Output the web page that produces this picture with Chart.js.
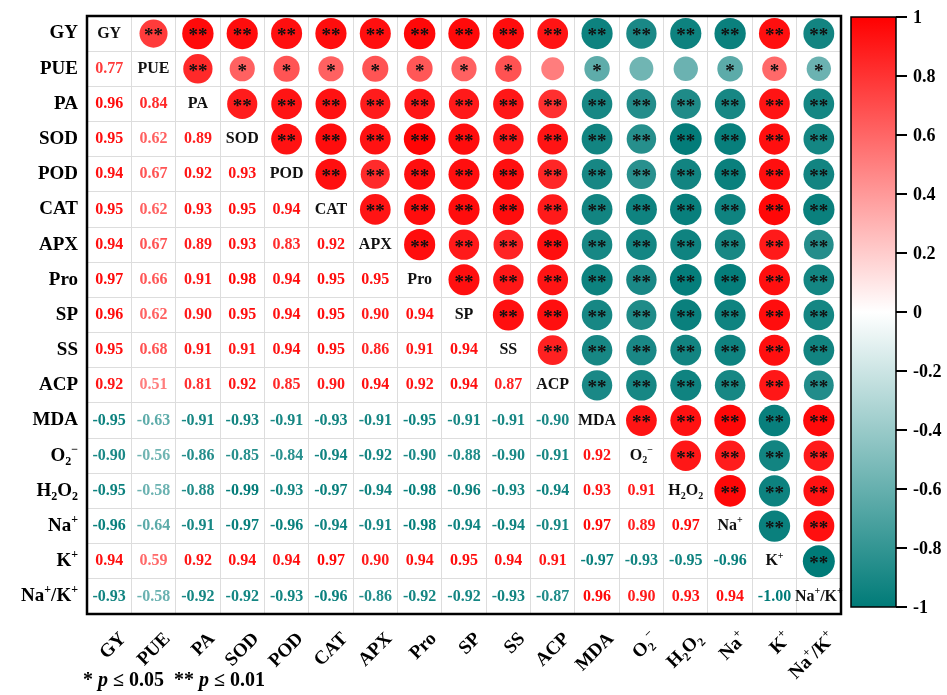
<!DOCTYPE html>
<html>
<head>
<meta charset="utf-8">
<script src="https://cdn.jsdelivr.net/npm/chart.js@4"></script>
<style>
  html, body { margin: 0; padding: 0; background: #fff; }
  #wrap { width: 947px; height: 695px; }
</style>
</head>
<body>
<div id="wrap"><canvas id="corrChart" width="947" height="695"></canvas></div>
<script>
// variable names ('_x' = subscript, '^x' = superscript)
const vars = ['GY', 'PUE', 'PA', 'SOD', 'POD', 'CAT', 'APX', 'Pro', 'SP', 'SS', 'ACP',
  'MDA', 'O_2^−', 'H_2O_2', 'Na^+', 'K^+', 'Na^+/K^+'];

// lower triangle of the correlation matrix, row i holds columns 0..i-1
const corrRows = [
  [],
  [0.77],
  [0.96, 0.84],
  [0.95, 0.62, 0.89],
  [0.94, 0.67, 0.92, 0.93],
  [0.95, 0.62, 0.93, 0.95, 0.94],
  [0.94, 0.67, 0.89, 0.93, 0.83, 0.92],
  [0.97, 0.66, 0.91, 0.98, 0.94, 0.95, 0.95],
  [0.96, 0.62, 0.90, 0.95, 0.94, 0.95, 0.90, 0.94],
  [0.95, 0.68, 0.91, 0.91, 0.94, 0.95, 0.86, 0.91, 0.94],
  [0.92, 0.51, 0.81, 0.92, 0.85, 0.90, 0.94, 0.92, 0.94, 0.87],
  [-0.95, -0.63, -0.91, -0.93, -0.91, -0.93, -0.91, -0.95, -0.91, -0.91, -0.90],
  [-0.90, -0.56, -0.86, -0.85, -0.84, -0.94, -0.92, -0.90, -0.88, -0.90, -0.91, 0.92],
  [-0.95, -0.58, -0.88, -0.99, -0.93, -0.97, -0.94, -0.98, -0.96, -0.93, -0.94, 0.93, 0.91],
  [-0.96, -0.64, -0.91, -0.97, -0.96, -0.94, -0.91, -0.98, -0.94, -0.94, -0.91, 0.97, 0.89, 0.97],
  [0.94, 0.59, 0.92, 0.94, 0.94, 0.97, 0.90, 0.94, 0.95, 0.94, 0.91, -0.97, -0.93, -0.95, -0.96],
  [-0.93, -0.58, -0.92, -0.92, -0.93, -0.96, -0.86, -0.92, -0.92, -0.93, -0.87, 0.96, 0.90, 0.93, 0.94, -1.00]
];

// significance for the upper triangle, row i holds columns i+1..16 (2 = **, 1 = *, 0 = none)
const starRows = [
  '2222222222222222',
  '211111110100111',
  '22222222222222',
  '2222222222222',
  '222222222222',
  '22222222222',
  '2222222222',
  '222222222',
  '22222222',
  '2222222',
  '222222',
  '22222',
  '2222',
  '222',
  '22',
  '2',
  ''
];

const colorbarTicks = [1, 0.8, 0.6, 0.4, 0.2, 0, -0.2, -0.4, -0.6, -0.8, -1];
const footnote = [['* ', ''], ['p', 'i'], [' ≤ 0.05  ** ', ''], ['p', 'i'], [' ≤ 0.01', '']];

const POS = [255, 0, 0];
const NEG = [0, 123, 120];
const SERIF = '"Liberation Serif", "Times New Roman", serif';

function corr(i, j) {
  if (i === j) return 1;
  return i > j ? corrRows[i][j] : corrRows[j][i];
}

function colorFor(v) {
  const c = v >= 0 ? POS : NEG;
  const a = Math.min(1, Math.abs(v));
  const mix = c.map(ch => Math.round(255 + (ch - 255) * a));
  return `rgb(${mix[0]},${mix[1]},${mix[2]})`;
}

// bubbles for the upper triangle
const bubbles = [];
for (let i = 0; i < vars.length; i++) {
  for (let j = i + 1; j < vars.length; j++) {
    const v = corr(i, j);
    bubbles.push({ x: j, y: i, r: 16 * Math.sqrt(Math.abs(v)), v: v, s: +starRows[i][j - i - 1] });
  }
}

// split label into [text, mode] pieces
function parseLabel(str) {
  const parts = [];
  let buf = '';
  for (let k = 0; k < str.length; k++) {
    const ch = str[k];
    if (ch === '_' || ch === '^') {
      if (buf) { parts.push([buf, '']); buf = ''; }
      parts.push([str[k + 1], ch === '_' ? 'sub' : 'sup']);
      k++;
    } else {
      buf += ch;
    }
  }
  if (buf) parts.push([buf, '']);
  return parts;
}

function partFont(mode, size) {
  if (mode === 'sub' || mode === 'sup') return `bold ${Math.round(size * 0.62)}px ${SERIF}`;
  if (mode === 'i') return `italic bold ${size}px ${SERIF}`;
  return `bold ${size}px ${SERIF}`;
}

function drawParts(ctx, parts, x, y, size, align) {
  let total = 0;
  const widths = parts.map(p => {
    ctx.font = partFont(p[1], size);
    const w = ctx.measureText(p[0]).width;
    total += w;
    return w;
  });
  let cx = align === 'right' ? x - total : align === 'center' ? x - total / 2 : x;
  ctx.textAlign = 'left';
  ctx.textBaseline = 'middle';
  parts.forEach((p, k) => {
    ctx.font = partFont(p[1], size);
    let dy = 0;
    if (p[1] === 'sub') dy = size * 0.32;
    if (p[1] === 'sup') dy = -size * 0.33;
    ctx.fillText(p[0], cx, y + dy);
    cx += widths[k];
  });
}

const matrixPlugin = {
  id: 'matrixPlugin',
  afterDatasetsDraw(chart) {
    const ctx = chart.ctx;
    const xs = chart.scales.x, ys = chart.scales.y;
    const area = chart.chartArea;
    const n = vars.length;
    ctx.save();

    // lower triangle numbers and diagonal names
    for (let i = 0; i < n; i++) {
      for (let j = 0; j <= i; j++) {
        const px = xs.getPixelForValue(j), py = ys.getPixelForValue(i);
        if (i === j) {
          ctx.fillStyle = '#111';
          drawParts(ctx, parseLabel(vars[i]), px, py, 16, 'center');
        } else {
          const v = corrRows[i][j];
          ctx.fillStyle = colorFor(v);
          ctx.font = `bold 16px ${SERIF}`;
          ctx.textAlign = 'center';
          ctx.textBaseline = 'middle';
          ctx.fillText(v.toFixed(2), px, py);
        }
      }
    }

    // stars on the bubbles
    ctx.fillStyle = '#111';
    ctx.font = `bold 19px ${SERIF}`;
    ctx.textAlign = 'center';
    ctx.textBaseline = 'middle';
    bubbles.forEach(b => {
      if (!b.s) return;
      const txt = b.s === 2 ? '**' : '*';
      ctx.fillText(txt, xs.getPixelForValue(b.x), ys.getPixelForValue(b.y) + 3);
    });

    // frame
    ctx.strokeStyle = '#000';
    ctx.lineWidth = 2.5;
    ctx.strokeRect(area.left, area.top, area.right - area.left, area.bottom - area.top);

    // row names
    ctx.fillStyle = '#000';
    for (let i = 0; i < n; i++) {
      drawParts(ctx, parseLabel(vars[i]), area.left - 9, ys.getPixelForValue(i), 19, 'right');
    }

    // column names, rotated 45 degrees
    for (let j = 0; j < n; j++) {
      ctx.save();
      ctx.translate(xs.getPixelForValue(j) + 14, area.bottom + 22);
      ctx.rotate(-Math.PI / 4);
      drawParts(ctx, parseLabel(vars[j]), 0, 0, 19, 'right');
      ctx.restore();
    }

    // colour bar
    const cbL = 851, cbR = 896, cbT = 17, cbB = 607;
    const grad = ctx.createLinearGradient(0, cbT, 0, cbB);
    grad.addColorStop(0, colorFor(1));
    grad.addColorStop(0.5, colorFor(0));
    grad.addColorStop(1, colorFor(-1));
    ctx.fillStyle = grad;
    ctx.fillRect(cbL, cbT, cbR - cbL, cbB - cbT);
    ctx.strokeStyle = '#000';
    ctx.lineWidth = 1.5;
    ctx.strokeRect(cbL, cbT, cbR - cbL, cbB - cbT);
    ctx.lineWidth = 2;
    ctx.fillStyle = '#000';
    ctx.font = `bold 18px ${SERIF}`;
    ctx.textAlign = 'left';
    ctx.textBaseline = 'middle';
    colorbarTicks.forEach(t => {
      const ty = cbT + (1 - t) / 2 * (cbB - cbT);
      ctx.beginPath();
      ctx.moveTo(cbR, ty);
      ctx.lineTo(cbR + 11, ty);
      ctx.stroke();
      ctx.fillText(String(t), cbR + 17, ty + 1);
    });

    // footnote
    ctx.fillStyle = '#000';
    drawParts(ctx, footnote, 83, 681, 20, 'left');

    ctx.restore();
  }
};

const boundaries = [];
for (let k = 0; k <= vars.length; k++) boundaries.push(k - 0.5);

const gridAxis = (reverse) => ({
  type: 'linear',
  min: -0.5,
  max: vars.length - 0.5,
  reverse: reverse,
  afterBuildTicks: scale => { scale.ticks = boundaries.map(v => ({ value: v })); },
  ticks: { display: false },
  grid: { color: '#dddddd', lineWidth: 1, drawTicks: false },
  border: { display: false }
});

new Chart(document.getElementById('corrChart'), {
  type: 'bubble',
  data: {
    datasets: [{
      data: bubbles,
      backgroundColor: c => colorFor(c.raw ? c.raw.v : 0),
      borderWidth: 0,
      hoverRadius: 0
    }]
  },
  options: {
    responsive: false,
    animation: false,
    events: [],
    layout: { padding: { left: 87, top: 10, right: 106, bottom: 81 } },
    plugins: { legend: { display: false }, tooltip: { enabled: false } },
    scales: { x: gridAxis(false), y: gridAxis(true) }
  },
  plugins: [matrixPlugin]
});
</script>
</body>
</html>
